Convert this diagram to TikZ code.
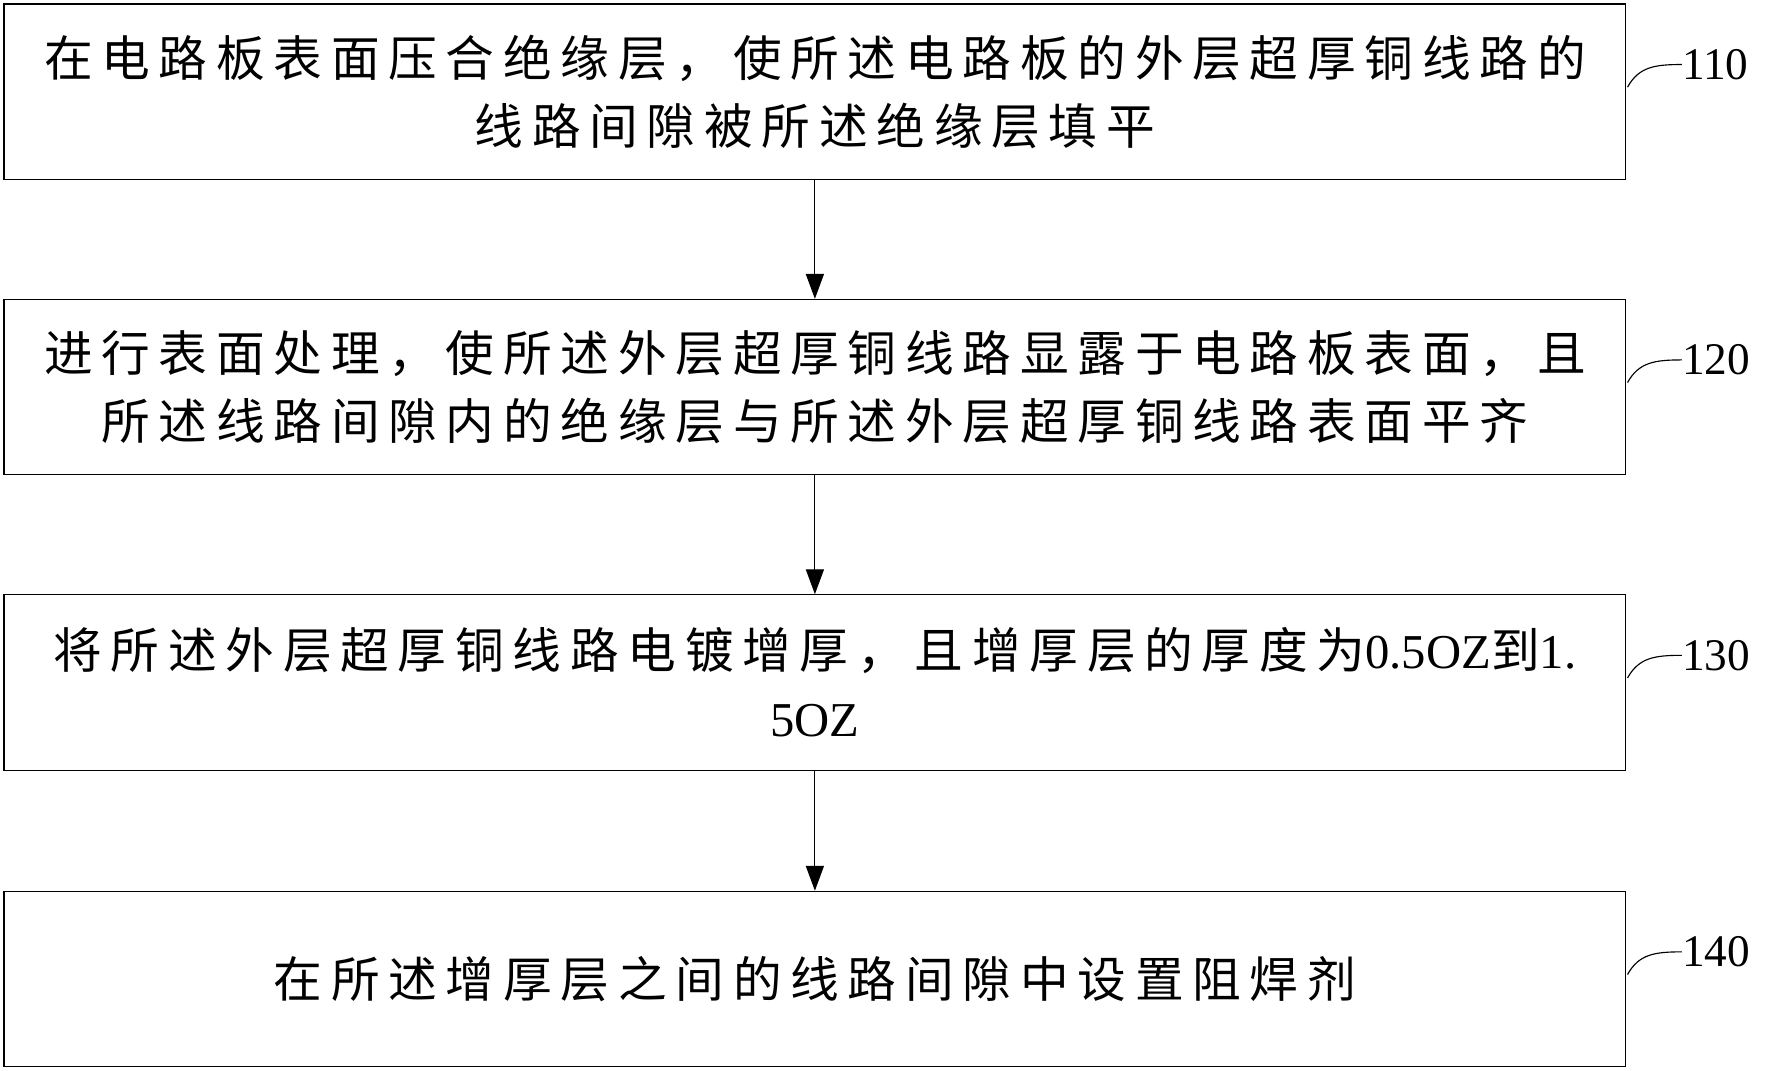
\documentclass[tikz,border=0pt]{standalone}
\usepackage{fontspec}
\setmainfont{Liberation Serif}
\newfontfamily\cjk[LetterSpace=18]{Noto Sans CJK SC}
\usetikzlibrary{arrows.meta}
\begin{document}
\begin{tikzpicture}[x=1pt,y=-1pt,
  box/.style={draw,line width=1pt,minimum width=1433pt,minimum height=155pt,anchor=north west,inner sep=0pt,align=center,font=\fontsize{43}{60}\selectfont},
  arr/.style={-{Triangle[length=22pt,width=16pt]},line width=1pt},
  lbl/.style={font=\fontsize{40}{40}\selectfont,anchor=west,inner sep=0pt}]
\useasboundingbox (0,0) rectangle (1563,946);
\node[box] (b1) at (3,3) {{\cjk 在电路板表面压合绝缘层，使所述电路板的外层超厚铜线路的}\\{\cjk 线路间隙被所述绝缘层填平}};
\node[box] (b2) at (3,264) {{\cjk 进行表面处理，使所述外层超厚铜线路显露于电路板表面，且}\\{\cjk 所述线路间隙内的绝缘层与所述外层超厚铜线路表面平齐}};
\node[box] (b3) at (3,525) {{\cjk 将所述外层超厚铜线路电镀增厚，且增厚层的厚度为}0.5OZ{\cjk 到}1.\\5OZ};
\node[box] (b4) at (3,787) {{\cjk 在所述增厚层之间的线路间隙中设置阻焊剂}};
\draw[arr] (b1.south) -- (b2.north);
\draw[arr] (b2.south) -- (b3.north);
\draw[arr] (b3.south) -- (b4.north);
\foreach \n/\t/\y in {b1/110/57,b2/120/318,b3/130/579,b4/140/841}{
  \node[lbl] (l\t) at (1486,\y) {\t};
  \draw[line width=1pt] (1438,\y+20) .. controls (1448,\y+2) and (1462,\y) .. (l\t.west);
}
\end{tikzpicture}
\end{document}
